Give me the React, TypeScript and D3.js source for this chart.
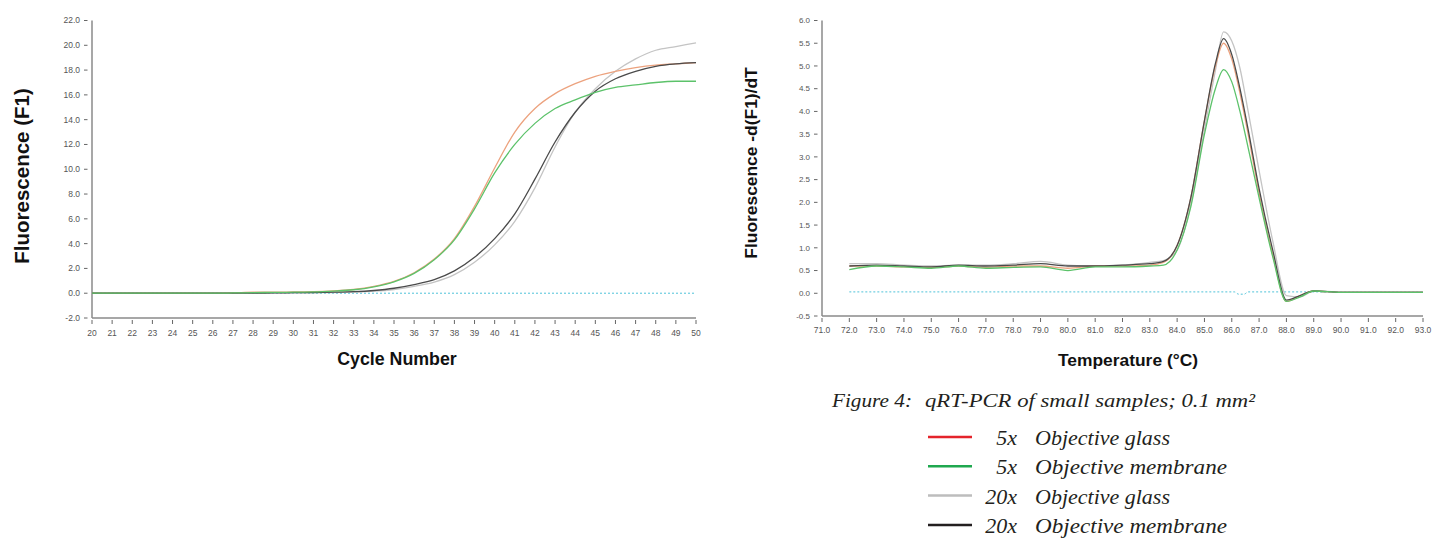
import React from 'react';
import * as d3 from 'd3';

// ---------- Amplification data (left chart) ----------
const cycles = [20,21,22,23,24,25,26,27,28,29,30,31,32,33,34,35,36,37,38,39,40,41,42,43,44,45,46,47,48,49,50];
const ampGlass5x = [0,0,0,0,0,0,0,0.02,0.08,0.08,0.1,0.12,0.18,0.3,0.55,0.95,1.65,2.75,4.4,7.0,10.1,13.0,14.9,16.1,16.9,17.5,17.9,18.2,18.4,18.5,18.6];
const ampMembrane5x = [0,0,0,0,0,0,0,0.02,0.05,0.06,0.08,0.1,0.17,0.28,0.52,0.92,1.6,2.7,4.3,6.8,9.7,12.0,13.7,14.9,15.6,16.2,16.6,16.8,17.0,17.1,17.1];
const ampGlass20x = [0,0,0,0,0,0,0,0,0,0.02,0.03,0.04,0.05,0.09,0.16,0.3,0.55,0.9,1.5,2.5,3.9,5.8,8.5,11.8,14.6,16.5,17.9,18.9,19.6,19.9,20.2];
const ampMembrane20x = [0,0,0,0,0,0,0,0,0,0.03,0.04,0.05,0.08,0.12,0.22,0.4,0.7,1.1,1.8,2.9,4.4,6.4,9.2,12.2,14.6,16.3,17.3,17.9,18.3,18.5,18.6];
const ampThresholdCycles = [20, 50];
const ampThreshold = [0, 0];
const leftYTicks = [-2,0,2,4,6,8,10,12,14,16,18,20,22];

// ---------- Melt curve data (right chart) ----------
const temps = [72,73,74,75,76,77,78,79,80,81,82,83,83.5,84,84.5,85,85.4,85.7,86,86.3,86.6,87,87.5,88,88.5,89,90,91,92,93];
const meltGlass5x = [0.6,0.6,0.58,0.57,0.6,0.57,0.6,0.6,0.55,0.6,0.6,0.62,0.68,1.05,2.1,3.8,5.0,5.5,5.15,4.4,3.5,2.2,0.85,-0.18,-0.05,0.05,0.02,0.02,0.02,0.02];
const meltMembrane5x = [0.52,0.6,0.58,0.55,0.6,0.55,0.57,0.58,0.5,0.58,0.58,0.6,0.62,0.95,1.9,3.5,4.5,4.92,4.65,4.0,3.2,2.1,0.8,-0.18,-0.08,0.05,0.02,0.02,0.02,0.02];
const meltGlass20x = [0.65,0.65,0.62,0.6,0.62,0.62,0.65,0.7,0.62,0.6,0.62,0.68,0.72,0.95,1.95,3.6,4.9,5.75,5.55,4.95,4.0,2.7,1.15,-0.05,-0.08,0.05,0.03,0.03,0.03,0.03];
const meltMembrane20x = [0.6,0.62,0.6,0.58,0.62,0.6,0.62,0.65,0.6,0.6,0.62,0.65,0.7,1.05,2.1,3.8,5.05,5.6,5.25,4.5,3.6,2.3,0.95,-0.15,-0.05,0.05,0.02,0.02,0.02,0.02];
const meltThresholdTemps = [72, 86.1, 86.25, 86.45, 86.6, 93];
const meltThreshold = [0.03, 0.03, -0.02, -0.02, 0.03, 0.03];
const rightXTicks = [71,72,73,74,75,76,77,78,79,80,81,82,83,84,85,86,87,88,89,90,91,92,93];
const rightYTicks = [-0.5,0,0.5,1,1.5,2,2.5,3,3.5,4,4.5,5,5.5,6];

// ---------- Legend ----------
const legendMag = ['5x', '5x', '20x', '20x'];
const legendLabels = ['Objective glass', 'Objective membrane', 'Objective glass', 'Objective membrane'];
const legendColors = ['#e4232b', '#1fa84f', '#bdbdbd', '#231f20'];
const captionLead = 'Figure 4:';
const captionText = 'qRT-PCR of small samples; 0.1 mm²';

const lineColors = { glass5: '#eca27e', mem5: '#5cc26a', glass20: '#c4c4c4', mem20: '#4a4a4a' };
const sans = '"Liberation Sans", Arial, Helvetica, sans-serif';
const serif = '"Liberation Serif", "Times New Roman", serif';

function makePath(xs: number[], ys: number[], x: d3.ScaleLinear<number, number>, y: d3.ScaleLinear<number, number>) {
  const line = d3.line<[number, number]>().x(d => x(d[0])).y(d => y(d[1])).curve(d3.curveMonotoneX);
  return line(xs.map((v, i) => [v, ys[i]] as [number, number])) || '';
}

export default function App() {
  // left chart scales
  const lx = d3.scaleLinear().domain([20, 50]).range([92, 696]);
  const ly = d3.scaleLinear().domain([-2, 22]).range([318, 20.5]);
  // right chart scales
  const rx = d3.scaleLinear().domain([71, 93]).range([822, 1423]);
  const ry = d3.scaleLinear().domain([-0.5, 6]).range([316, 20.5]);

  const axisColor = '#8a8a8a';
  const tickText = '#555';

  return (
    <svg width={1435} height={538} style={{ position: 'absolute', left: 0, top: 0, background: '#fff' }}>
      {/* ---------- LEFT CHART ---------- */}
      <g>
        <line x1={lx(20)} x2={lx(20)} y1={ly(22)} y2={ly(-2)} stroke={axisColor} strokeWidth={1.5} />
        <line x1={lx(20)} x2={lx(50)} y1={ly(-2)} y2={ly(-2)} stroke={axisColor} strokeWidth={1.5} />
        {leftYTicks.map(t => (
          <g key={'ly' + t}>
            <line x1={lx(20) - 8} x2={lx(20) - 4.5} y1={ly(t)} y2={ly(t)} stroke="#666" strokeWidth={1} />
            <text x={lx(20) - 12} y={ly(t)} dy="0.35em" textAnchor="end" fontFamily={sans} fontSize={8.5} fill={tickText}>{t.toFixed(1)}</text>
          </g>
        ))}
        {cycles.map(c => (
          <g key={'lx' + c}>
            <line x1={lx(c)} x2={lx(c)} y1={ly(-2) + 2} y2={ly(-2) + 6} stroke="#666" strokeWidth={1} />
            <text x={lx(c)} y={ly(-2) + 15} dy="0.35em" textAnchor="middle" fontFamily={sans} fontSize={8.5} fill={tickText}>{c}</text>
          </g>
        ))}
        <path d={makePath(ampThresholdCycles, ampThreshold, lx, ly)} fill="none" stroke="#4fc3d9" strokeWidth={1} strokeDasharray="2,2" />
        <path d={makePath(cycles, ampGlass20x, lx, ly)} fill="none" stroke={lineColors.glass20} strokeWidth={1.3} />
        <path d={makePath(cycles, ampGlass5x, lx, ly)} fill="none" stroke={lineColors.glass5} strokeWidth={1.3} />
        <path d={makePath(cycles, ampMembrane20x, lx, ly)} fill="none" stroke={lineColors.mem20} strokeWidth={1.3} />
        <path d={makePath(cycles, ampMembrane5x, lx, ly)} fill="none" stroke={lineColors.mem5} strokeWidth={1.3} />
        <text x={397} y={365} textAnchor="middle" fontFamily={sans} fontWeight="bold" fontSize={17.8} fill="#111">Cycle Number</text>
        <text transform="translate(29,176) rotate(-90)" textAnchor="middle" fontFamily={sans} fontWeight="bold" fontSize={20.5} fill="#111">Fluorescence (F1)</text>
      </g>

      {/* ---------- RIGHT CHART ---------- */}
      <g>
        <line x1={rx(71)} x2={rx(71)} y1={ry(6)} y2={ry(-0.5)} stroke={axisColor} strokeWidth={1.5} />
        <line x1={rx(71)} x2={rx(93)} y1={ry(-0.5)} y2={ry(-0.5)} stroke={axisColor} strokeWidth={1.5} />
        {rightYTicks.map(t => (
          <g key={'ry' + t}>
            <line x1={rx(71) - 8} x2={rx(71) - 4.5} y1={ry(t)} y2={ry(t)} stroke="#666" strokeWidth={1} />
            <text x={rx(71) - 12} y={ry(t)} dy="0.35em" textAnchor="end" fontFamily={sans} fontSize={8} fill={tickText}>{t.toFixed(1)}</text>
          </g>
        ))}
        {rightXTicks.map(t => (
          <g key={'rx' + t}>
            <line x1={rx(t)} x2={rx(t)} y1={ry(-0.5) + 2} y2={ry(-0.5) + 6} stroke="#666" strokeWidth={1} />
            <text x={rx(t)} y={ry(-0.5) + 14} dy="0.35em" textAnchor="middle" fontFamily={sans} fontSize={8.5} fill={tickText}>{t.toFixed(1)}</text>
          </g>
        ))}
        <path d={makePath(meltThresholdTemps, meltThreshold, rx, ry)} fill="none" stroke="#4fc3d9" strokeWidth={1} strokeDasharray="2,2" />
        <path d={makePath(temps, meltGlass20x, rx, ry)} fill="none" stroke={lineColors.glass20} strokeWidth={1.3} />
        <path d={makePath(temps, meltGlass5x, rx, ry)} fill="none" stroke={lineColors.glass5} strokeWidth={1.3} />
        <path d={makePath(temps, meltMembrane20x, rx, ry)} fill="none" stroke={lineColors.mem20} strokeWidth={1.3} />
        <path d={makePath(temps, meltMembrane5x, rx, ry)} fill="none" stroke={lineColors.mem5} strokeWidth={1.3} />
        <text x={1128} y={366} textAnchor="middle" fontFamily={sans} fontWeight="bold" fontSize={17.4} fill="#111">Temperature (°C)</text>
        <text transform="translate(757,163) rotate(-90)" textAnchor="middle" fontFamily={sans} fontWeight="bold" fontSize={17.4} fill="#111">Fluorescence -d(F1)/dT</text>
      </g>

      {/* ---------- CAPTION & LEGEND ---------- */}
      <g fontFamily={serif} fontStyle="italic" fill="#231f20">
        <text x={832} y={407} fontSize={19} textLength={80} lengthAdjust="spacingAndGlyphs">{captionLead}</text>
        <text x={925} y={407} fontSize={19} textLength={330} lengthAdjust="spacingAndGlyphs">{captionText}</text>
        {legendLabels.map((lab, i) => {
          const yy = 437 + i * 29.3;
          return (
            <g key={'lg' + i}>
              <line x1={928} x2={972} y1={yy} y2={yy} stroke={legendColors[i]} strokeWidth={2.5} />
              <text x={1017} y={yy + 8} textAnchor="end" fontSize={22}>{legendMag[i]}</text>
              <text x={1035} y={yy + 8} fontSize={22} textLength={i % 2 === 0 ? 135 : 192} lengthAdjust="spacingAndGlyphs">{lab}</text>
            </g>
          );
        })}
      </g>
    </svg>
  );
}
